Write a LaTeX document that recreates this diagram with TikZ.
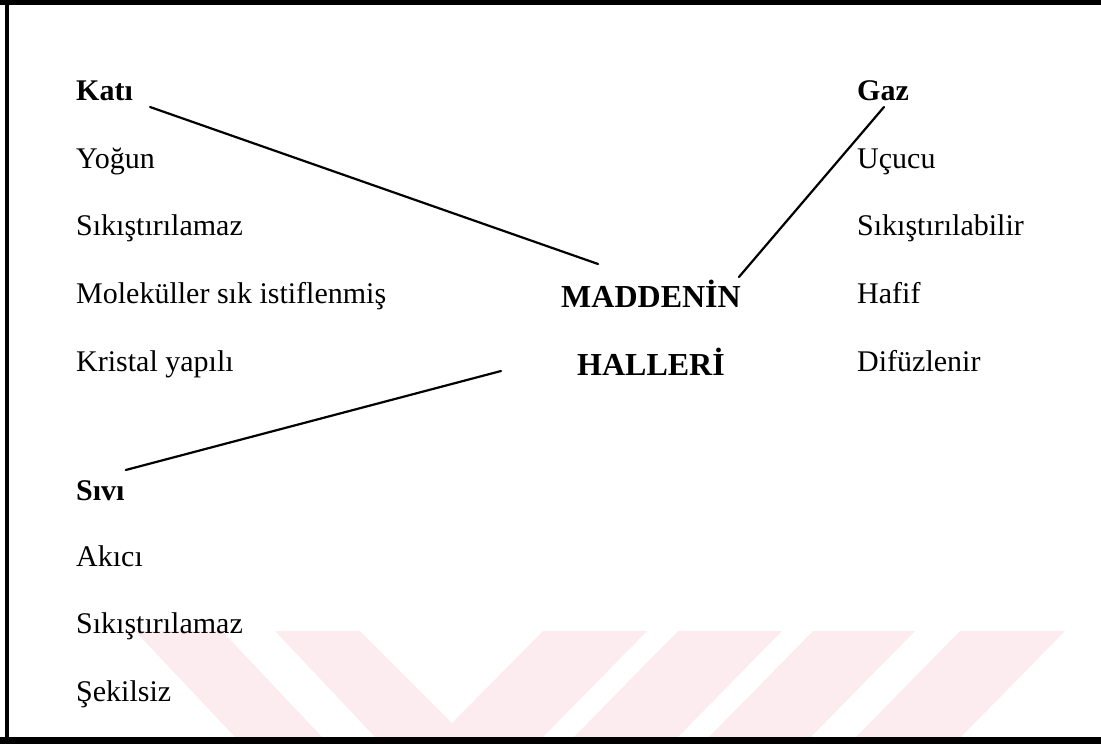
\documentclass[tikz,border=0pt]{standalone}
\usepackage{fontspec}
\setmainfont{Liberation Serif}
\usepackage{xcolor}
\usetikzlibrary{calc}
\definecolor{ink}{HTML}{000000}
\definecolor{wmark}{HTML}{FCECEF}
\tikzset{
  frame/.style={draw=ink, line cap=rect},
  link/.style={draw=ink, line width=2.2pt, line cap=round},
  wm/.style={fill=wmark},
  item/.style={anchor=base west, inner sep=0pt, text=ink, font=\fontsize{30}{36}\selectfont},
  head/.style={item, font=\fontsize{30}{36}\selectfont\bfseries},
  title/.style={item, anchor=base, font=\fontsize{32}{38}\selectfont\bfseries}
}
\begin{document}
\begin{tikzpicture}[x=1pt,y=-1pt]
  \useasboundingbox (0,0) rectangle (1101,744);
  % watermark
  \fill[wm] (135,631) -- (222,631) -- (322,737) -- (235,737) -- cycle;
  \fill[wm] (275,631) -- (360,631) -- (452,723) -- (543,631) -- (647,631) -- (543,737) -- (375,737) -- cycle;
  \fill[wm] (678,631) -- (782,631) -- (678,737) -- (574,737) -- cycle;
  \fill[wm] (813,631) -- (915,631) -- (811,737) -- (709,737) -- cycle;
  \fill[wm] (960,631) -- (1065,631) -- (961,737) -- (856,737) -- cycle;
  % frame
  \draw[frame, line width=5pt] (0,2.5) -- (1101,2.5);
  \draw[frame, line width=4pt] (7,0) -- (7,744);
  \draw[frame, line width=7pt] (0,740.5) -- (1101,740.5);

  \node[head] (kati) at (76,100) {Katı};
  \node[item] (yogun) at (76,168) {Yoğun};
  \node[item] (sikis1) at (76,235) {Sıkıştırılamaz};
  \node[item] (molek) at (76,303) {Moleküller sık istiflenmiş};
  \node[item] (kristal) at (76,371) {Kristal yapılı};

  \node[head] (gaz) at (857,100) {Gaz};
  \node[item] (ucucu) at (857,168) {Uçucu};
  \node[item] (sikis2) at (857,235) {Sıkıştırılabilir};
  \node[item] (hafif) at (857,303) {Hafif};
  \node[item] (difuz) at (857,371) {Difüzlenir};

  \node[title] (madde) at (651,307) {MADDENİN};
  \node[title] (haller) at (651,375) {HALLERİ};

  \node[head] (sivi) at (76,500) {Sıvı};
  \node[item] (akici) at (76,566) {Akıcı};
  \node[item] (sikis3) at (76,633) {Sıkıştırılamaz};
  \node[item] (sekil) at (76,701) {Şekilsiz};

  \coordinate (katiend) at ($(kati.base east)+(17,7)$);
  \coordinate (gazend) at ($(gaz.base west)+(27,7)$);
  \coordinate (siviend) at ($(sivi.base east)+(1,-30)$);
  \coordinate (maddeL) at ($(madde.base west)+(37,-43)$);
  \coordinate (maddeR) at ($(madde.base east)+(-2,-30)$);
  \coordinate (hallerL) at ($(haller.base west)+(-76,-4)$);
  \draw[link] (katiend) -- (maddeL);
  \draw[link] (gazend) -- (maddeR);
  \draw[link] (siviend) -- (hallerL);
\end{tikzpicture}
\end{document}
